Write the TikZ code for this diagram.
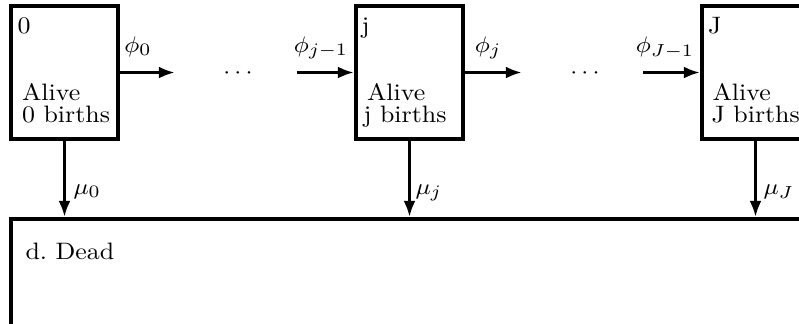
\documentclass[tikz,border=0pt]{standalone}
\usepackage{graphicx}
\usetikzlibrary{arrows.meta}
\newcommand{\sx}[1]{\scalebox{1.09}[1]{#1}}
\begin{document}
\begin{tikzpicture}[x=0.4pt,y=-0.4pt,
  every node/.style={font=\fontsize{9.5}{11}\selectfont},
  statebox/.style={draw, line width=1.55pt, rectangle, inner sep=0pt, minimum width=42.8pt, minimum height=53.2pt},
  deadbox/.style={draw, line width=1.55pt, rectangle, inner sep=0pt, minimum width=330pt, minimum height=50pt},
  txt/.style={inner sep=0pt, anchor=base west},
  lab/.style={inner sep=0pt, anchor=base},
  flow/.style={line width=1.55pt, -{Latex[length=6.5pt,width=4.8pt]}}]
\useasboundingbox (0,0) rectangle (799,323);
\clip (0,0) rectangle (799,323);
% state boxes
\node[statebox] (b0) at (64.5,72.5) {};
\node[statebox] (bj) at (409.5,72.5) {};
\node[statebox] (bJ) at (755.5,72.5) {};
\node[deadbox] (dead) at (423.5,281.5) {};
% texts in boxes
\node[txt] (n0) at (17,33) {\sx{0}};
\node[txt] (a0) at (21.5,100) {\sx{Alive}};
\node[txt] (c0) at (21.5,122) {\sx{0 births}};
\node[txt] (nj) at (361,33) {\sx{j}};
\node[txt] (aj) at (366.5,100) {\sx{Alive}};
\node[txt] (cj) at (363,122) {\sx{j births}};
\node[txt] (nJ) at (707.5,33) {\sx{J}};
\node[txt] (aJ) at (712,100) {\sx{Alive}};
\node[txt] (cJ) at (711,122) {\sx{J births}};
\node[txt] (dl) at (25,259) {\sx{d.\ Dead}};
% free ends of horizontal connectors
\coordinate (e0) at (175,72.5);
\coordinate (s1) at (297,72.5);
\coordinate (e1) at (522,72.5);
\coordinate (s2) at (643,72.5);
\draw[flow] (b0.east) -- (e0);
\draw[flow] (s1) -- (bj.west);
\draw[flow] (bj.east) -- (e1);
\draw[flow] (s2) -- (bJ.west);
% dots
\node[lab] (d1) at (238,78.5) {\sx{$\cdots$}};
\node[lab] (d2) at (585,78.5) {\sx{$\cdots$}};
% phi labels
\node[lab] (p0) at (138,52) {\sx{$\phi_0$}};
\node[lab] (p1) at (321,52) {\sx{$\phi_{j-1}$}};
\node[lab] (p2) at (488,52) {\sx{$\phi_j$}};
\node[lab] (p3) at (665,52) {\sx{$\phi_{J-1}$}};
% death arrows
\draw[flow] (b0.south) -- (b0.south |- dead.north);
\draw[flow] (bj.south) -- (bj.south |- dead.north);
\draw[flow] (bJ.south) -- (bJ.south |- dead.north);
\node[txt] (m0) at (73,194) {\sx{$\mu_0$}};
\node[txt] (mj) at (415,194) {\sx{$\mu_j$}};
\node[txt] (mJ) at (763,194) {\sx{$\mu_J$}};
\end{tikzpicture}
\end{document}
